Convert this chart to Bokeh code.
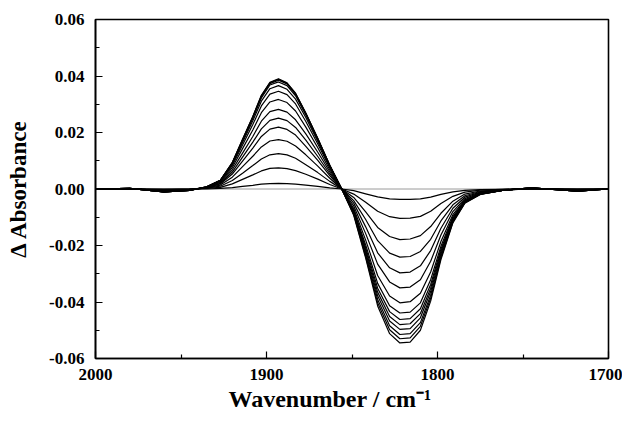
from bokeh.plotting import figure
from bokeh.models import Range1d, FixedTicker, NumeralTickFormatter, Title
from bokeh.embed import file_html
from bokeh.resources import INLINE

# ---- data ----
wavenumber = [2000, 1980, 1960, 1945, 1935, 1927, 1920, 1914, 1908, 1903, 1898, 1893,
              1888, 1883, 1877, 1870, 1863, 1856, 1849, 1842, 1835, 1828, 1822, 1816,
              1810, 1804, 1798, 1791, 1784, 1775, 1762, 1745, 1718, 1700]

spectrum_01 = [0, 0, 0, 0, 0, 0.0002, 0.0005, 0.0009, 0.0013, 0.0017, 0.0019, 0.0020,
               0.0019, 0.0017, 0.0014, 0.0009, 0.0004, 0.0, -0.0006, -0.0017, -0.0028, -0.0035, -0.0037, -0.0037,
               -0.0035, -0.0029, -0.0019, -0.0010, -0.0005, -0.0002, -0.0001, 0, 0, 0]
spectrum_02 = [0, 0, -0.0001, 0, 0.0002, 0.0006, 0.0018, 0.0034, 0.0050, 0.0064, 0.0073, 0.0075,
               0.0072, 0.0065, 0.0052, 0.0035, 0.0016, 0.0, -0.0018, -0.0047, -0.0079, -0.0098, -0.0104, -0.0103,
               -0.0097, -0.0079, -0.0051, -0.0026, -0.0011, -0.0004, -0.0001, 0, 0, 0]
spectrum_03 = [0, 0, -0.0002, 0, 0.0003, 0.0010, 0.0030, 0.0056, 0.0083, 0.0106, 0.0121, 0.0125,
               0.0121, 0.0109, 0.0086, 0.0058, 0.0027, 0.0, -0.0030, -0.0081, -0.0136, -0.0168, -0.0179, -0.0177,
               -0.0165, -0.0133, -0.0086, -0.0043, -0.0018, -0.0007, -0.0002, 0.0001, -0.0001, 0]
spectrum_04 = [0, 0, -0.0003, 0, 0.0004, 0.0014, 0.0042, 0.0079, 0.0116, 0.0149, 0.0170, 0.0175,
               0.0169, 0.0152, 0.0121, 0.0081, 0.0038, 0.0, -0.0041, -0.0108, -0.0183, -0.0227, -0.0241, -0.0239,
               -0.0221, -0.0178, -0.0113, -0.0056, -0.0024, -0.0009, -0.0003, 0.0001, -0.0002, 0]
spectrum_05 = [0, 0.0001, -0.0006, -0.0003, 0.0004, 0.0018, 0.0053, 0.0099, 0.0145, 0.0186, 0.0212, 0.0219,
               0.0211, 0.0191, 0.0151, 0.0101, 0.0047, 0.0, -0.0050, -0.0134, -0.0226, -0.0279, -0.0297, -0.0294,
               -0.0272, -0.0218, -0.0139, -0.0068, -0.0029, -0.0011, -0.0003, 0.0002, -0.0004, 0]
spectrum_06 = [0, 0.0001, -0.0006, -0.0003, 0.0005, 0.0020, 0.0060, 0.0113, 0.0166, 0.0213, 0.0243, 0.0251,
               0.0242, 0.0218, 0.0173, 0.0115, 0.0054, 0.0, -0.0060, -0.0158, -0.0266, -0.0329, -0.0350, -0.0347,
               -0.0321, -0.0256, -0.0163, -0.0080, -0.0034, -0.0013, -0.0004, 0.0002, -0.0004, 0]
spectrum_07 = [0, 0.0001, -0.0006, -0.0003, 0.0006, 0.0023, 0.0068, 0.0127, 0.0186, 0.0240, 0.0274, 0.0282,
               0.0272, 0.0245, 0.0195, 0.0130, 0.0061, 0.0, -0.0069, -0.0181, -0.0306, -0.0379, -0.0403, -0.0399,
               -0.0369, -0.0294, -0.0186, -0.0091, -0.0038, -0.0015, -0.0005, 0.0002, -0.0004, 0]
spectrum_08 = [0, 0.0002, -0.0010, -0.0005, 0.0006, 0.0025, 0.0076, 0.0143, 0.0209, 0.0270, 0.0308, 0.0317,
               0.0306, 0.0276, 0.0219, 0.0146, 0.0068, 0.0, -0.0075, -0.0198, -0.0334, -0.0413, -0.0439, -0.0436,
               -0.0403, -0.0321, -0.0203, -0.0098, -0.0041, -0.0016, -0.0005, 0.0004, -0.0008, 0]
spectrum_09 = [0, 0.0002, -0.0010, -0.0005, 0.0007, 0.0028, 0.0083, 0.0156, 0.0228, 0.0294, 0.0336, 0.0346,
               0.0334, 0.0301, 0.0239, 0.0159, 0.0075, 0.0, -0.0079, -0.0208, -0.0351, -0.0434, -0.0462, -0.0459,
               -0.0424, -0.0338, -0.0213, -0.0103, -0.0043, -0.0017, -0.0005, 0.0004, -0.0008, 0]
spectrum_10 = [0, 0.0002, -0.0010, -0.0005, 0.0007, 0.0029, 0.0088, 0.0165, 0.0242, 0.0311, 0.0355, 0.0366,
               0.0353, 0.0318, 0.0253, 0.0168, 0.0079, 0.0, -0.0082, -0.0216, -0.0365, -0.0451, -0.0480, -0.0477,
               -0.0441, -0.0351, -0.0221, -0.0107, -0.0045, -0.0017, -0.0005, 0.0004, -0.0008, 0]
spectrum_11 = [0, 0.0002, -0.0010, -0.0005, 0.0008, 0.0030, 0.0091, 0.0171, 0.0250, 0.0322, 0.0368, 0.0379,
               0.0366, 0.0330, 0.0262, 0.0174, 0.0082, 0.0, -0.0084, -0.0224, -0.0378, -0.0467, -0.0497, -0.0494,
               -0.0456, -0.0363, -0.0229, -0.0110, -0.0046, -0.0018, -0.0005, 0.0004, -0.0008, 0]
spectrum_12 = [0, 0.0002, -0.0010, -0.0005, 0.0008, 0.0031, 0.0092, 0.0173, 0.0254, 0.0327, 0.0373, 0.0385,
               0.0372, 0.0335, 0.0266, 0.0177, 0.0083, 0.0, -0.0088, -0.0232, -0.0391, -0.0484, -0.0515, -0.0512,
               -0.0473, -0.0376, -0.0237, -0.0114, -0.0048, -0.0018, -0.0005, 0.0004, -0.0008, 0]
spectrum_13 = [0, 0.0002, -0.0010, -0.0005, 0.0008, 0.0031, 0.0093, 0.0175, 0.0256, 0.0330, 0.0376, 0.0388,
               0.0374, 0.0338, 0.0268, 0.0179, 0.0084, 0.0, -0.0090, -0.0239, -0.0403, -0.0498, -0.0530, -0.0527,
               -0.0486, -0.0387, -0.0244, -0.0117, -0.0049, -0.0019, -0.0005, 0.0004, -0.0008, 0]
spectrum_14 = [0, 0.0002, -0.0010, -0.0005, 0.0008, 0.0031, 0.0094, 0.0176, 0.0257, 0.0332, 0.0378, 0.0390,
               0.0376, 0.0339, 0.0269, 0.0179, 0.0084, 0.0, -0.0093, -0.0245, -0.0414, -0.0512, -0.0545, -0.0542,
               -0.0500, -0.0397, -0.0250, -0.0120, -0.0050, -0.0019, -0.0005, 0.0004, -0.0008, 0]

spectra = [spectrum_01, spectrum_02, spectrum_03, spectrum_04, spectrum_05, spectrum_06, spectrum_07,
           spectrum_08, spectrum_09, spectrum_10, spectrum_11, spectrum_12, spectrum_13, spectrum_14]

reference_x = [2000, 1700]
reference_y = [0.0, 0.0]

x_major = [2000, 1900, 1800, 1700]
x_minor = [1950, 1850, 1750]
y_major = [-0.06, -0.04, -0.02, 0.0, 0.02, 0.04, 0.06]
y_minor = [-0.05, -0.03, -0.01, 0.01, 0.03, 0.05]

x_title = "Wavenumber / cm\u207b\u00b9"
y_title = "\u0394 Absorbance"

FONT = "Liberation Serif"

p = figure(frame_width=513, frame_height=339,
           min_border_left=95, min_border_right=14, min_border_top=19, min_border_bottom=60,
           x_range=Range1d(2000, 1700), y_range=Range1d(-0.06, 0.06),
           output_backend="svg", toolbar_location=None, tools="")

p.background_fill_color = "white"
p.border_fill_color = "white"
p.outline_line_color = "black"
p.outline_line_width = 1.6
p.xgrid.visible = False
p.ygrid.visible = False

# baseline spectrum (thin grey)
p.line(reference_x, reference_y, line_color="#9a9a9a", line_width=1)

for s in spectra:
    p.line(wavenumber, s, line_color="black", line_width=1.2)

for ax in (p.xaxis[0], p.yaxis[0]):
    ax.axis_line_color = "black"
    ax.axis_line_width = 1.6
    ax.major_tick_in = 7
    ax.major_tick_out = 0
    ax.minor_tick_in = 4
    ax.minor_tick_out = 0
    ax.major_tick_line_color = "black"
    ax.minor_tick_line_color = "black"
    ax.major_tick_line_width = 1.2
    ax.minor_tick_line_width = 1.2
    ax.major_label_text_font = FONT
    ax.major_label_text_font_style = "bold"
    ax.major_label_text_font_size = "17px"
    ax.major_label_text_color = "black"

p.xaxis.ticker = FixedTicker(ticks=x_major, minor_ticks=x_minor)
p.yaxis.ticker = FixedTicker(ticks=y_major, minor_ticks=y_minor)
p.yaxis.formatter = NumeralTickFormatter(format="0.00")
p.xaxis.major_label_standoff = 10
p.yaxis.major_label_standoff = 11

p.yaxis.axis_label = y_title
p.yaxis.axis_label_text_font = FONT
p.yaxis.axis_label_text_font_style = "bold"
p.yaxis.axis_label_text_font_size = "23px"
p.yaxis.axis_label_text_color = "black"
p.yaxis.axis_label_standoff = 15

p.add_layout(Title(text=x_title, align="left", offset=133, standoff=2,
                   text_font=FONT, text_font_style="bold", text_font_size="24px",
                   text_color="black"), "below")

open("out.html", "w").write(file_html(p, INLINE))
